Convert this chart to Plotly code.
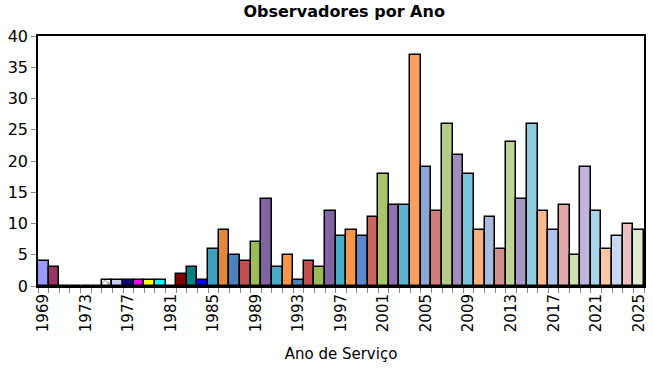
import plotly.graph_objects as go

years = list(range(1969, 2026))
observers = [4, 3, 0, 0, 0, 0, 1, 1, 1, 1, 1, 1, 0, 2, 3, 1,
             6, 9, 5, 4, 7, 14, 3, 5, 1, 4, 3, 12, 8, 9, 8, 11,
             18, 13, 13, 37, 19, 12, 26, 21, 18, 9, 11, 6, 23, 14, 26, 12,
             9, 13, 5, 19, 12, 6, 8, 10, 9]
bar_colors = [
    "#9999FF", "#993366", "#FFFFFF", "#FFFFFF", "#FFFFFF", "#FFFFFF",
    "#FFFFFF", "#CCCCFF", "#000080", "#FF00FF", "#FFFF00", "#00FFFF",
    "#FFFFFF", "#800000", "#008080", "#0000FF",
    "#3FA0C0", "#E0883C", "#4F81BD", "#C0504D", "#9BBB59", "#8064A2",
    "#4BACC6", "#F79646", "#4F81BD", "#C0504D", "#9BBB59", "#8064A2",
    "#4BACC6", "#F79646", "#6088C8", "#CC6460", "#A9C46B", "#8E74AE",
    "#5CB4CC", "#F9A060", "#8EA6D6", "#D07C7A", "#B7CC88", "#A08CBD",
    "#78C4D8", "#F9B080", "#A8BCE0", "#D09090", "#C0D498", "#A898C8",
    "#90CCE0", "#FAB890", "#B0C4E8", "#E0A8A8", "#D0E0B0", "#C0B4DC",
    "#A8D8E8", "#FCC8A8", "#C8D8F0", "#EAC0C0", "#DDEBD0",
]
pattern_shapes = ["" for _ in years]
pattern_shapes[years.index(1975)] = "x"
tick_years = list(range(1969, 2026, 4))

fig = go.Figure(go.Bar(
    x=years, y=observers,
    marker=dict(color=bar_colors,
                line=dict(color="black", width=1.5),
                pattern=dict(shape=pattern_shapes, fgcolor="#0055CC",
                             size=5, solidity=0.4)),
    width=1.0,
))

font = "DejaVu Sans, Arial, sans-serif"
fig.update_layout(
    width=653, height=369,
    margin=dict(l=38, r=9, t=36, b=83, autoexpand=False),
    paper_bgcolor="white", plot_bgcolor="white",
    title=dict(text="<b>Observadores por Ano</b>", x=0.527, xanchor="center",
               y=0.985, yanchor="top",
               font=dict(family=font, size=16, color="black")),
    showlegend=False,
    bargap=0,
)
fig.update_xaxes(
    range=[1968.5, 2025.5], tickmode="array", tickvals=tick_years,
    ticktext=[str(y) for y in tick_years], tickangle=-90,
    tickfont=dict(family=font, size=15, color="black"),
    ticks="", showgrid=False, zeroline=False, automargin=False,
    showline=True, linecolor="black", linewidth=2, mirror=True,
    minor=dict(tickmode="linear", tick0=1968.5, dtick=1, ticks="outside",
               ticklen=5, tickcolor="#888888", tickwidth=1, showgrid=False),
    title=dict(text="Ano de Serviço", font=dict(family=font, size=15, color="black"),
               standoff=17),
)
fig.update_yaxes(
    range=[0, 40], dtick=5, tickfont=dict(family=font, size=16, color="black"),
    ticks="outside", ticklen=5, tickcolor="#888888", showgrid=False,
    zeroline=False, showline=True, linecolor="black", linewidth=1.5, mirror=True,
    automargin=False,
)
fig.write_html("out.html", config={"displayModeBar": False},
               post_script="document.body.style.margin='0';")
